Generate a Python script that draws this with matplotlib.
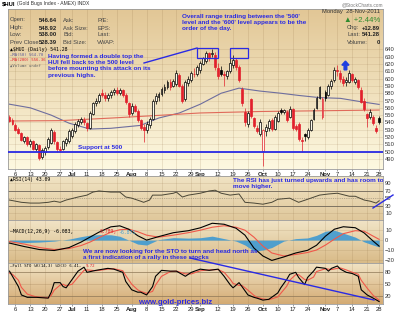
import numpy as np
import pandas as pd
import matplotlib
matplotlib.use("Agg")
import matplotlib.pyplot as plt
from matplotlib.colors import LinearSegmentedColormap
from matplotlib.lines import Line2D
from matplotlib.patches import Rectangle

plt.rcParams['font.family'] = ['Liberation Sans', 'DejaVu Sans']

# trading days shown on the chart (holidays dropped)
dates = pd.bdate_range("2011-06-02", "2011-11-28")
holidays = pd.to_datetime(["2011-07-04", "2011-09-05", "2011-11-24"])
dates = dates[~dates.isin(holidays)]

tick_dates = ["2011-06-06", "2011-06-13", "2011-06-20", "2011-06-27", "2011-07-01",
              "2011-07-11", "2011-07-18", "2011-07-25", "2011-08-01", "2011-08-08",
              "2011-08-15", "2011-08-22", "2011-08-29", "2011-09-01", "2011-09-12",
              "2011-09-19", "2011-09-26", "2011-10-03", "2011-10-10", "2011-10-17",
              "2011-10-24", "2011-11-01", "2011-11-07", "2011-11-14", "2011-11-21",
              "2011-11-28"]
tick_labels = ["6", "13", "20", "27", "Jul", "11", "18", "25", "Aug", "8", "15", "22",
               "29", "Sep", "12", "19", "26", "Oct", "10", "17", "24", "Nov", "7", "14",
               "21", "28"]

# daily OHLC of $HUI
opens = [548, 543, 537, 531, 525, 515, 520, 510, 514, 504,
         509, 493, 500, 506, 512, 527, 513, 504, 503, 512,
         514, 522, 528, 537, 541, 544, 539, 533, 552, 566,
         570, 580, 578, 573, 577, 582, 585, 581, 585, 578,
         566, 553, 562, 556, 543, 534, 530, 536, 545, 570,
         575, 579, 585, 588, 596, 590, 592, 605, 590, 572,
         594, 598, 607, 606, 612, 620, 624, 635, 634, 632,
         614, 612, 607, 604, 610, 618, 625, 616, 586, 555,
         538, 572, 546, 533, 524, 501, 528, 532, 543, 531,
         542, 557, 555, 554, 548, 558, 535, 538, 516, 524,
         520, 530, 545, 560, 574, 548, 582, 578, 590, 598,
         612, 608, 600, 595, 596, 606, 596, 598, 585, 570,
         551, 548, 548, 533, 546.64]
highs = [550, 546, 539, 534, 527, 522, 521, 518, 516, 512,
         511, 505, 508, 520, 532, 529, 515, 508, 516, 520,
         531, 533, 540, 545, 548, 547, 541, 556, 568, 574,
         580, 586, 582, 580, 584, 587, 588, 587, 586, 580,
         568, 566, 565, 558, 545, 538, 542, 548, 572, 580,
         582, 588, 592, 598, 600, 600, 612, 608, 592, 598,
         604, 610, 614, 618, 624, 630, 638, 637, 640, 636,
         622, 617, 610, 612, 630, 632, 628, 618, 588, 560,
         556, 574, 548, 537, 545, 531, 538, 545, 546, 550,
         556, 560, 559, 557, 562, 560, 538, 541, 520, 525,
         532, 545, 560, 576, 590, 575, 585, 592, 600, 616,
         618, 612, 604, 602, 612, 608, 602, 600, 588, 574,
         553, 558, 550, 536, 548.92]
lows = [540, 536, 528, 524, 514, 512, 508, 507, 502, 501,
        488, 490, 496, 504, 510, 511, 500, 499, 502, 508,
        512, 519, 526, 534, 538, 536, 528, 531, 550, 562,
        567, 575, 570, 570, 574, 578, 578, 577, 575, 565,
        548, 550, 554, 540, 530, 513, 526, 533, 543, 565,
        569, 576, 581, 586, 585, 588, 590, 588, 566, 570,
        590, 596, 602, 604, 608, 618, 622, 624, 629, 612,
        600, 603, 590, 600, 608, 615, 612, 595, 562, 535,
        534, 546, 532, 525, 522, 481, 522, 528, 528, 530,
        540, 552, 551, 541, 546, 530, 528, 515, 500, 515,
        518, 528, 543, 558, 572, 545, 570, 576, 586, 596,
        604, 596, 590, 590, 594, 596, 592, 586, 566, 556,
        534, 545, 536, 526, 538.00]
closes = [542, 538, 530, 526, 516, 520, 510, 515, 504, 510,
          492, 502, 505, 518, 529, 514, 503, 502, 514, 518,
          528, 530, 538, 542, 545, 540, 532, 553, 566, 570,
          578, 577, 574, 578, 582, 585, 581, 585, 578, 568,
          552, 563, 556, 543, 533, 530, 538, 545, 570, 576,
          579, 586, 588, 595, 588, 597, 608, 590, 570, 596,
          600, 608, 606, 616, 621, 628, 635, 628, 635, 616,
          604, 607, 605, 610, 622, 626, 616, 598, 566, 540,
          553, 549, 535, 528, 541, 529, 534, 542, 531, 547,
          553, 555, 557, 544, 559, 533, 531, 518, 514, 521,
          530, 543, 557, 573, 588, 572, 574, 590, 597, 612,
          610, 600, 594, 598, 608, 598, 600, 589, 568, 558,
          546, 555, 539, 528.39, 541.28]

# moving averages (read at a few days)
ma50_days = [0, 7, 14, 20, 27, 34, 44, 50, 57, 64, 71, 77, 84, 91, 97, 104, 111, 117, 124]
ma50_vals = [565, 560, 550, 539, 531, 532, 536, 546, 553, 565, 580, 587, 583, 580, 577,
             574, 573, 569, 564.7]
ma200_days = [0, 17, 34, 47, 64, 84, 104, 124]
ma200_vals = [542, 542.5, 546, 549, 553, 555, 556, 557]

rsi_days = [0, 4, 7, 10, 13, 15, 17, 19, 23, 26, 28, 30, 34, 37, 39, 41, 44, 45, 47, 48,
            51, 55, 56, 58, 60, 64, 67, 69, 71, 74, 77, 79, 82, 85, 88, 90, 94, 97, 100,
            104, 107, 110, 114, 116, 119, 121, 123, 124]
rsi_vals = [45, 39, 37, 37, 39, 42, 39, 45, 53, 58, 66, 69, 66, 66, 53, 50, 42, 39, 45, 58,
            58, 63, 66, 53, 58, 63, 69, 71, 63, 58, 61, 39, 37, 34, 39, 47, 50, 39, 47,
            58, 61, 63, 55, 55, 45, 42, 37, 43.09]

macd_days = [0, 5, 10, 15, 20, 24, 27, 30, 34, 37, 40, 43, 46, 50, 55, 60, 64, 68, 72,
             76, 79, 82, 85, 88, 92, 96, 100, 103, 106, 109, 112, 116, 119, 122, 124]
macd_vals = [-3, -6.5, -9.5, -10.5, -7.5, -2, 3, 8, 13.4, 14.4, 11, 4.5, 0, 3.5, 7.5,
             9.5, 12.4, 17, 16, 12, 5, -8, -16, -20.5, -17, -13, -10.3, -5.2, 4, 11,
             13.5, 12.5, 7.2, -1, -6.083]
signal_vals = [-1.5, -4, -7.5, -9.5, -8.5, -5.5, -2, 2.5, 8, 10.5, 11, 8.5, 5, 3, 5,
               7.5, 10, 13, 14.5, 13, 10, 3, -6, -13, -16, -14.5, -12.5, -10, -5, 1,
               6.5, 9.5, 9, 4, 0.789]

sto_days = [0, 1, 3, 4, 6, 9, 13, 14, 15, 17, 18, 19, 21, 23, 25, 26, 29, 33, 35, 38,
            39, 41, 43, 44, 46, 48, 49, 51, 54, 56, 59, 61, 64, 67, 70, 72, 74, 75, 77,
            78, 80, 82, 83, 85, 87, 90, 91, 93, 94, 96, 97, 99, 100, 102, 103, 106, 107,
            108, 110, 111, 113, 115, 117, 118, 120, 122, 124]
sto_k = [83, 70, 44, 23, 17, 17, 15, 30, 54, 54, 44, 41, 62, 83, 93, 80, 85, 90, 88, 80,
         57, 36, 30, 30, 23, 44, 70, 85, 83, 83, 70, 80, 88, 85, 88, 70, 49, 41, 54,
         44, 23, 17, 15, 10, 12, 28, 41, 62, 75, 80, 67, 49, 67, 83, 93, 90, 83,
         90, 96, 88, 80, 77, 70, 36, 23, 15, 6.41]
sto_d = [78, 75, 60, 42, 25, 18, 16, 22, 35, 48, 50, 46, 50, 68, 85, 86, 84, 88, 89, 84,
         72, 50, 36, 32, 27, 32, 48, 70, 82, 83, 76, 76, 84, 86, 87, 80, 63, 52, 47,
         47, 35, 22, 17, 13, 11, 18, 27, 45, 60, 74, 74, 62, 60, 68, 82, 89, 88,
         87, 90, 91, 86, 80, 75, 60, 40, 22, 9.72]

W, H = 401, 315
BLUE = '#2a2ae4'
RED = '#e2202c'
GRID = (0.55, 0.42, 0.25)


def fx(px):
    return px / W


def fy(py):
    return 1 - py / H


fig = plt.figure(figsize=(W / 100, H / 100), dpi=100)
fig.patch.set_facecolor('white')


def panel(top, bottom, c_top, c_bot):
    ax = fig.add_axes([fx(8), fy(bottom), 375 / W, (bottom - top) / H])
    cmap = LinearSegmentedColormap.from_list('bg', [c_bot, c_top])
    ax.imshow(np.linspace(1, 0, 64).reshape(-1, 1), cmap=cmap, extent=[0, 1, 0, 1],
              transform=ax.transAxes, aspect='auto', zorder=0)
    for s in ax.spines.values():
        s.set_color('#9a9a9a')
        s.set_linewidth(0.6)
    ax.yaxis.tick_right()
    ax.tick_params(axis='y', length=0, pad=1.5, labelsize=4.2, labelcolor='#333333')
    ax.tick_params(axis='x', length=1.2, pad=1, labelsize=4.2, labelcolor='#222222',
                   color='#777777', width=0.5)
    return ax


tick_idx = [dates.get_loc(pd.Timestamp(d)) for d in tick_dates]
n = len(closes)

ax_p = panel(9, 169, '#e2c796', '#fdf8e0')
ax_r = panel(176, 220, '#f0e3c3', '#e0c89c')
ax_m = panel(220, 263, '#f1e4c6', '#d9bb88')
ax_s = panel(263, 304, '#f1e3c4', '#d4ab74')

for ax in (ax_p, ax_r, ax_m, ax_s):
    for tk in tick_idx:
        ax.axvline(tk, color=GRID, alpha=0.22, lw=0.5, zorder=1)
    ax.set_xlim(-0.5, 125.3)
    ax.set_xticks(tick_idx)

# ---- price panel
for v in range(490, 641, 10):
    ax_p.axhline(v, color=GRID, alpha=0.18, lw=0.5, zorder=1)
ax_p.plot(ma50_days, ma50_vals, color='#6e6e9e', lw=0.8, zorder=2)
ax_p.plot(ma200_days, ma200_vals, color='#e06a5a', lw=0.8, zorder=2)
ax_p.axhline(500, color=BLUE, lw=1.3, zorder=5)

for i in range(n):
    o, h, l, c = opens[i], highs[i], lows[i], closes[i]
    prev = closes[i - 1] if i else o
    col = RED if c < prev else 'black'
    ax_p.vlines(i, l, h, color=col, lw=0.5, zorder=3)
    fill = '#fbf7ea' if c > o else col
    ax_p.add_patch(Rectangle((i - 0.32, min(o, c)), 0.64, max(abs(c - o), 0.5),
                             facecolor=fill, edgecolor=col, lw=0.5, zorder=4))

for x0, x1 in [(62.9, 69.9), (73.9, 79.9)]:
    ax_p.add_patch(Rectangle((x0, 628.6), x1 - x0, 13.7, fill=False, edgecolor=BLUE,
                             lw=0.9, zorder=6))
ax_p.arrow(112.7, 612, 0, 12, width=0.9, head_width=2.4, head_length=5.5,
           length_includes_head=True, color='#1f3fe0', zorder=6)

ax_p.set_ylim(476.3, 695.3)
ax_p.set_yticks(range(490, 641, 10))
ax_p.set_xticklabels(tick_labels)

# ---- RSI panel
for v in (10, 90):
    ax_r.axhline(v, color=GRID, alpha=0.2, lw=0.5, zorder=1)
for v in (30, 70):
    ax_r.axhline(v, color='#6d6558', lw=0.6, zorder=1)
ax_r.axhline(50, color='#8a8070', lw=0.4, ls=(0, (2, 2)), zorder=1)
ax_r.plot(rsi_days, rsi_vals, color='#4a4636', lw=0.7, zorder=3)
ax_r.set_ylim(-7.7, 108.5)
ax_r.set_yticks([10, 30, 50, 70, 90])
ax_r.set_xticklabels([])
ax_r.tick_params(axis='x', length=0)

# ---- MACD panel
for v in (-20, -10, 0, 10):
    ax_m.axhline(v, color=GRID, alpha=0.2, lw=0.5, zorder=1)
hist = np.array(macd_vals) - np.array(signal_vals)
ax_m.fill_between(macd_days, hist, 0, color='#3f9ad2', lw=0, alpha=0.9, zorder=2)
ax_m.plot(macd_days, signal_vals, color='#f0584a', lw=0.8, zorder=3)
ax_m.plot(macd_days, macd_vals, color='black', lw=0.8, zorder=4)
ax_m.set_ylim(-23.1, 20.3)
ax_m.set_yticks([-20, -10, 0, 10])
ax_m.set_xticklabels([])
ax_m.tick_params(axis='x', length=0)

# ---- Full STO panel
for v in (20, 80):
    ax_s.axhline(v, color='#8c7656', lw=0.5, zorder=1)
ax_s.axhline(50, color=GRID, alpha=0.3, lw=0.5, zorder=1)
ax_s.plot(sto_days, sto_d, color='#f0584a', lw=0.8, zorder=3)
ax_s.plot(sto_days, sto_k, color='black', lw=0.8, zorder=4)
ax_s.set_ylim(0.2, 103.5)
ax_s.set_yticks([20, 50, 80])
ax_s.set_xticklabels(tick_labels)

for ax in (ax_p, ax_s):
    for lab in ax.get_xticklabels():
        if lab.get_text().isalpha():
            lab.set_fontweight('bold')


# ---- header texts
def t(px, py, s, **kw):
    kw.setdefault('va', 'center')
    kw.setdefault('size', 4.2)
    return fig.text(fx(px), fy(py), s, **kw)


t(2, 4, "$HUI", weight='bold', size=4.2)
t(17, 4, "(Gold Bugs Index - AMEX) INDX", size=3.6, color='#333333')
t(383, 5, "@StockCharts.com", ha='right', size=3.4, color='#777777')

rows = [20, 28, 35, 43]
for py, a, b, c, d in zip(rows, ["Open:", "High:", "Low:", "Prev Close:"],
                          ["546.64", "548.92", "538.00", "528.39"],
                          ["Ask:", "Ask Size:", "Bid:", "Bid Size:"],
                          ["P/E:", "EPS:", "Last:", "VWAP:"]):
    t(10, py, a, color='#444444')
    t(57, py, b, ha='right', weight='bold', color='#222222')
    t(63, py, c, color='#444444')
    t(97, py, d, color='#444444')

t(380, 12, "Monday  28-Nov-2011", ha='right', color='#333333')
t(380, 20, "\u25b2 +2.44%", ha='right', size=5.6, color='#2e8b2e')
for py, a, b in zip([28, 35, 43], ["Chg:", "Last:", "Volume:"], ["+12.89", "541.28", "0"]):
    t(347, py, a, color='#444444')
    t(380, py, b, ha='right', weight='bold', color='#222222')

mono = dict(family='DejaVu Sans Mono', size=3.5)
small = dict(family='DejaVu Sans Mono', size=2.9)
t(10, 50, "\u25b2$HUI (Daily) 541.28", **mono)
t(10, 55, "\u2014MA(50) 564.70", color='#5a5a9a', family='DejaVu Sans Mono', size=2.8)
t(10, 60, "\u2014MA(200) 556.36", color=RED, family='DejaVu Sans Mono', size=2.8)
t(10, 66, "\u25b2Volume undef", color='#666666', family='DejaVu Sans Mono', size=2.8)

t(10, 180, "\u25b2RSI(14) 43.09", **mono)
t(10, 232, "\u2014MACD(12,26,9) -6.083,", **mono)
t(100, 232, "0.789,", color=RED, **mono)
t(118, 232, "-6.871", color='#4aa0d0', **mono)
t(10, 266, "\u2014Full STO %K(14,3) %D(3) 6.41,", **small)
t(86, 266, "9.72", color=RED, **small)

# ---- annotations
note = dict(color=BLUE, weight='bold', size=4.6, va='top', linespacing=1.3)
t(182, 14, "Overall range trading between the '500'\nlevel and the '600' level appears to be the\norder of the day.", **note)
t(48, 54, "Having formed a double top the\nHUI fell back to the 500 level\nbefore mounting this attack on its\nprevious highs.", **note)
t(78, 148, "Support at 500", **dict(note, va='center'))
t(233, 178, "The RSI has just turned upwards and has room to\nmove higher.", **note)
t(83, 249, "We are now looking for the STO to turn and head north as\na first indication of a rally in these stocks", **note)
t(138, 302, "www.gold-prices.biz", color=BLUE, weight='bold', size=5.6)

for (x0, y0), (x1, y1) in [((144, 63), (197, 48)), ((373, 208), (393, 195)),
                           ((190, 258), (374, 300))]:
    fig.add_artist(Line2D([fx(x0), fx(x1)], [fy(y0), fy(y1)], color=BLUE, lw=1.0))

fig.savefig("out.png", dpi=100)
